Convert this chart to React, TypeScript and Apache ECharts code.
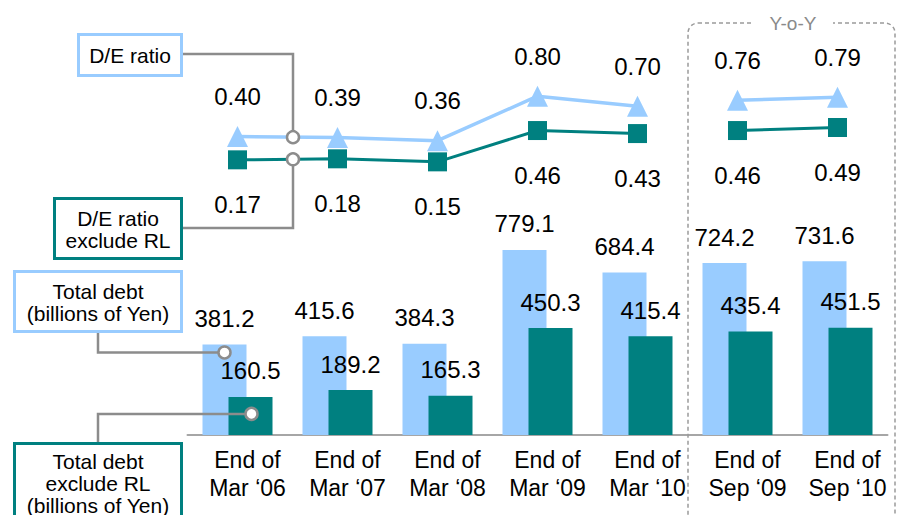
import React, { useEffect, useRef } from 'react';
import * as echarts from 'echarts';

// Column labels (fiscal year ends, then the two half-year Y-o-Y columns)
const categories = [
  'End of\nMar ‘06',
  'End of\nMar ‘07',
  'End of\nMar ‘08',
  'End of\nMar ‘09',
  'End of\nMar ‘10',
  'End of\nSep ‘09',
  'End of\nSep ‘10',
];
// Billions of yen
const totalDebt = [381.2, 415.6, 384.3, 779.1, 684.4, 724.2, 731.6];
const totalDebtExRL = [160.5, 189.2, 165.3, 450.3, 415.4, 435.4, 451.5];
// Ratios
const deRatio = [0.4, 0.39, 0.36, 0.8, 0.7, 0.76, 0.79];
const deRatioExRL = [0.17, 0.18, 0.15, 0.46, 0.43, 0.46, 0.49];
// Index of the first Y-o-Y column
const yoyStart = 5;

const LIGHT = '#99ccff';
const TEAL = '#008080';
const GRAY = '#8c8c8c';
const FONT = '"Liberation Sans", Arial, sans-serif';

const BAR_W = 44;
const BAR_GAP = -18; // overlap between the two bars of a column
const BAR_SHIFT = (BAR_W + BAR_GAP) / 2;

const part = (arr: number[], from: number, to: number) =>
  arr.map((v, i) => (i >= from && i < to ? v : '-'));

const ratioLabel = (dy: number) => ({
  show: true,
  position: 'inside' as const,
  offset: [0, dy],
  fontSize: 24,
  fontFamily: FONT,
  color: '#000',
  formatter: (p: any) => Number(p.value).toFixed(2),
});

const barLabel = {
  show: true,
  position: 'top' as const,
  distance: 14,
  fontSize: 24,
  fontFamily: FONT,
  color: '#000',
  formatter: (p: any) => Number(p.value).toFixed(1),
};

function ratioLine(data: any[], color: string, symbol: string, size: number, width: number, dy: number) {
  return {
    type: 'line',
    xAxisIndex: 1,
    yAxisIndex: 1,
    data,
    symbol,
    symbolSize: size,
    showAllSymbol: true,
    lineStyle: { color, width },
    itemStyle: { color },
    label: ratioLabel(dy),
    z: 5,
  };
}

export default function App() {
  const ref = useRef<HTMLDivElement>(null);

  useEffect(() => {
    if (!ref.current) return;
    const chart = echarts.init(ref.current, undefined, { renderer: 'svg' });

    chart.setOption({
      animation: false,
      textStyle: { fontFamily: FONT },
      grid: [
        { left: 187.5, right: 12.5, top: 197.5, bottom: 80 },
        { left: 187.5, right: 12.5, top: 76, height: 101 },
      ],
      xAxis: [
        {
          type: 'category',
          gridIndex: 0,
          data: categories,
          axisLine: { lineStyle: { color: '#a6a6a6', width: 2 } },
          axisTick: { show: false },
          axisLabel: {
            interval: 0,
            fontSize: 23,
            lineHeight: 28,
            color: '#000',
            fontFamily: FONT,
            margin: 11,
            padding: [0, 0, 0, 20],
          },
        },
        { type: 'category', gridIndex: 1, data: categories, show: false },
      ],
      yAxis: [
        { type: 'value', gridIndex: 0, min: 0, max: 1000, show: false },
        { type: 'value', gridIndex: 1, min: 0, max: 1, show: false },
      ],
      series: [
        {
          type: 'bar',
          name: 'Total debt',
          xAxisIndex: 0,
          yAxisIndex: 0,
          data: totalDebt,
          barWidth: BAR_W,
          barGap: `${(BAR_GAP / BAR_W) * 100}%`,
          itemStyle: { color: LIGHT },
          label: barLabel,
        },
        {
          type: 'bar',
          name: 'Total debt exclude RL',
          xAxisIndex: 0,
          yAxisIndex: 0,
          data: totalDebtExRL,
          barWidth: BAR_W,
          itemStyle: { color: TEAL },
          label: barLabel,
        },
        ratioLine(part(deRatio, 0, yoyStart), LIGHT, 'triangle', 21, 3.5, -40),
        ratioLine(part(deRatio, yoyStart, categories.length), LIGHT, 'triangle', 21, 3.5, -40),
        ratioLine(part(deRatioExRL, 0, yoyStart), TEAL, 'rect', 19, 3, 45),
        ratioLine(part(deRatioExRL, yoyStart, categories.length), TEAL, 'rect', 19, 3, 45),
      ],
    });

    // Callout anchors, taken from the drawn series
    const px = (grid: number, x: number, y: number) =>
      chart.convertToPixel({ gridIndex: grid }, [x, y]) as number[];
    const along = (arr: number[], t: number) => {
      const a = px(1, 0, arr[0]);
      const b = px(1, 1, arr[1]);
      return [a[0] + (b[0] - a[0]) * t, a[1] + (b[1] - a[1]) * t];
    };
    const cRatio = along(deRatio, 0.555);
    const cRatioEx = along(deRatioExRL, 0.555);
    const debtTop = px(0, 0, totalDebt[0]);
    const debtExTop = px(0, 0, totalDebtExRL[0]);
    const cDebt = [debtTop[0] - BAR_SHIFT, debtTop[1] + 8];
    const cDebtEx = [debtExTop[0] + BAR_SHIFT + 1, debtExTop[1] + 17];

    const R = 6;
    const lineStyle = { stroke: GRAY, lineWidth: 2.5, fill: 'none' };
    const circle = (c: number[]) => ({
      type: 'circle',
      z: 110,
      shape: { cx: c[0], cy: c[1], r: R },
      style: { fill: '#fff', stroke: GRAY, lineWidth: 2.5 },
    });
    const box = (x: number, y: number, w: number, h: number, color: string) => ({
      type: 'rect',
      z: 100,
      shape: { x, y, width: w, height: h },
      style: { fill: '#fff', stroke: color, lineWidth: 3 },
    });
    const boxText = (x: number, y: number, text: string) => ({
      type: 'text',
      z: 101,
      x,
      y,
      style: {
        text,
        fontSize: 21,
        fontFamily: FONT,
        lineHeight: 22,
        fill: '#000',
        align: 'center',
        verticalAlign: 'middle',
      },
    });

    chart.setOption({
      graphic: [
        // Y-o-Y frame
        {
          type: 'rect',
          z: 1,
          shape: { x: 688, y: 23, width: 207, height: 530, r: 10 },
          style: { fill: 'none', stroke: '#9a9a9a', lineWidth: 1.5, lineDash: [4, 3] },
        },
        { type: 'rect', z: 2, shape: { x: 753, y: 13, width: 80, height: 20 }, style: { fill: '#fff' } },
        {
          type: 'text',
          z: 3,
          x: 793,
          y: 23,
          style: {
            text: 'Y-o-Y',
            fontSize: 19,
            fontFamily: FONT,
            fill: '#8a8a8a',
            align: 'center',
            verticalAlign: 'middle',
          },
        },
        // Connectors
        {
          type: 'polyline',
          z: 105,
          shape: { points: [[183, 54], [cRatio[0], 54], [cRatio[0], cRatio[1] - R]] },
          style: lineStyle,
        },
        {
          type: 'polyline',
          z: 105,
          shape: { points: [[cRatioEx[0], cRatioEx[1] + R], [cRatioEx[0], 228], [183, 228]] },
          style: lineStyle,
        },
        {
          type: 'polyline',
          z: 105,
          shape: { points: [[98, 333], [98, cDebt[1]], [cDebt[0] - R, cDebt[1]]] },
          style: lineStyle,
        },
        {
          type: 'polyline',
          z: 105,
          shape: { points: [[98, 442], [98, cDebtEx[1]], [cDebtEx[0] - R, cDebtEx[1]]] },
          style: lineStyle,
        },
        circle(cRatio),
        circle(cRatioEx),
        circle(cDebt),
        circle(cDebtEx),
        // Legend boxes
        box(78.5, 34.5, 103, 41, LIGHT),
        boxText(130, 55, 'D/E ratio'),
        box(54.5, 198.5, 127, 60, TEAL),
        boxText(118, 229, 'D/E ratio\nexclude RL'),
        box(14.5, 271.5, 167, 60, LIGHT),
        boxText(98, 302, 'Total debt\n(billions of Yen)'),
        box(14.5, 443.5, 167, 100, TEAL),
        boxText(98, 483, 'Total debt\nexclude RL\n(billions of Yen)'),
      ],
    });

    return () => chart.dispose();
  }, []);

  return (
    <div
      ref={ref}
      style={{ position: 'fixed', left: 0, top: 0, width: 900, height: 515, background: '#fff' }}
    />
  );
}
